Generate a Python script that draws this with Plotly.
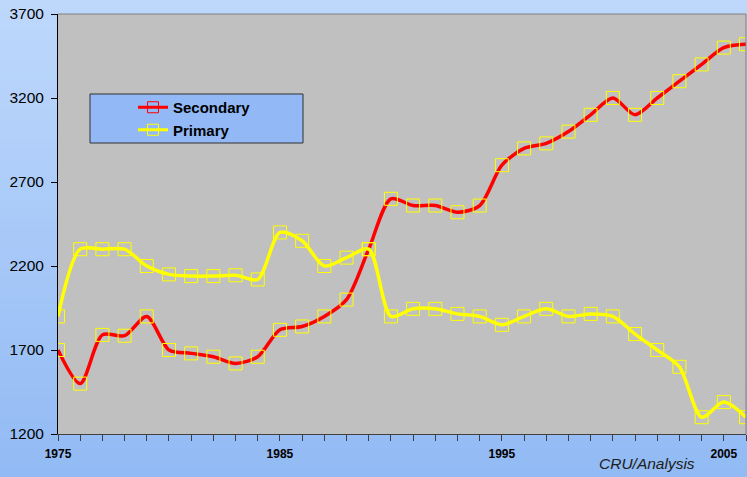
import plotly.graph_objects as go

years = list(range(1975, 2007))
secondary = [1700, 1500, 1790, 1785, 1900, 1700, 1680, 1660, 1620, 1660,
             1820, 1840, 1900, 2000, 2300, 2600, 2560, 2560, 2520, 2560,
             2800, 2900, 2930, 3000, 3100, 3200, 3100, 3200, 3300, 3400,
             3500, 3520]
primary = [1900, 2300, 2300, 2300, 2200, 2150, 2140, 2140, 2145, 2120,
           2400, 2350, 2200, 2250, 2300, 1900, 1945, 1945, 1915, 1900,
           1850, 1900, 1945, 1900, 1915, 1900, 1795, 1700, 1600, 1300,
           1390, 1300]
y_ticks = [1200, 1700, 2200, 2700, 3200, 3700]
x_tick_labels = [1975, 1985, 1995, 2005]

W, H = 747, 477
L, R, T, B = 58, 1, 14, 43
pw, ph = W - L - R, H - T - B

def px(x):
    return (x - L) / pw

def py(y):
    return (H - B - y) / ph

FONT = "Liberation Sans, Arial, sans-serif"

fig = go.Figure()

fig.add_trace(go.Scatter(x=years, y=secondary, mode="lines+markers", showlegend=False,
                         line=dict(color="#ff0000", width=3.5, shape="spline", smoothing=0.8),
                         marker=dict(symbol="square-open", size=13, color="#ffff00",
                                     line=dict(color="#ffff00", width=1))))
fig.add_trace(go.Scatter(x=years, y=primary, mode="lines+markers", showlegend=False,
                         line=dict(color="#ffff00", width=3.5, shape="spline", smoothing=0.8),
                         marker=dict(symbol="square-open", size=13, color="#ffff00",
                                     line=dict(color="#ffff00", width=1))))
# legend entries
fig.add_trace(go.Scatter(x=[None], y=[None], mode="lines+markers", name="Secondary",
                         line=dict(color="#ff0000", width=3),
                         marker=dict(symbol="square-open", size=11, color="#ff0000",
                                     line=dict(color="#ff0000", width=1))))
fig.add_trace(go.Scatter(x=[None], y=[None], mode="lines+markers", name="Primary",
                         line=dict(color="#ffff00", width=3),
                         marker=dict(symbol="square-open", size=11, color="#ffff00",
                                     line=dict(color="#ffff00", width=1))))

shapes = []
# gradient background
top_c = (0xbe, 0xd8, 0xfc)
bot_c = (0x92, 0xba, 0xf4)
n = 48
for i in range(n):
    t = i / (n - 1)
    c = tuple(int(round(top_c[k] + (bot_c[k] - top_c[k]) * t)) for k in range(3))
    y0 = H * i / n
    y1 = H * (i + 1) / n + 1
    shapes.append(dict(type="rect", xref="paper", yref="paper", layer="below",
                       x0=px(0), x1=px(W), y0=py(y1), y1=py(y0),
                       fillcolor="rgb(%d,%d,%d)" % c, line=dict(width=0)))
# plot area fill
shapes.append(dict(type="rect", xref="paper", yref="paper", layer="below",
                   x0=0, x1=1, y0=0, y1=1, fillcolor="#c0c0c0", line=dict(width=0)))
# plot border top/right
shapes.append(dict(type="line", xref="paper", yref="paper", x0=0, x1=1, y0=1, y1=1,
                   line=dict(color="#808080", width=1)))
shapes.append(dict(type="line", xref="paper", yref="paper", x0=1, x1=1, y0=0, y1=1,
                   line=dict(color="#808080", width=1)))
# legend box
shapes.append(dict(type="rect", xref="paper", yref="paper", layer="above",
                   x0=px(90), x1=px(303), y0=py(143), y1=py(94),
                   fillcolor="#92b9f6", line=dict(color="#303030", width=1)))
fig.update_layout(shapes=shapes)

fig.update_layout(
    width=W, height=H,
    margin=dict(l=L, r=R, t=T, b=B),
    paper_bgcolor="rgb(146,186,244)",
    plot_bgcolor="#c0c0c0",
    font=dict(family=FONT, color="#000000"),
    showlegend=True,
    legend=dict(x=px(133), y=py(91), xanchor="left", yanchor="top",
                bgcolor="rgba(0,0,0,0)", borderwidth=0,
                font=dict(size=15, family=FONT, weight="bold"),
                tracegroupgap=0, itemwidth=30),
    xaxis=dict(range=[1975, 2006], showgrid=False, zeroline=False,
               tickmode="array", tickvals=x_tick_labels,
               ticktext=[str(v) for v in x_tick_labels],
               tickfont=dict(size=12, weight="bold"),
               ticks="outside", ticklen=6, tickcolor="#404040",
               ticklabelstandoff=3,
               minor=dict(dtick=1, tick0=1975, ticks="outside", ticklen=6, tickcolor="#404040"),
               showline=True, linecolor="#404040", linewidth=1),
    yaxis=dict(range=[1200, 3700], showgrid=False, zeroline=False,
               tickmode="array", tickvals=y_ticks,
               ticktext=[str(v) for v in y_ticks],
               tickfont=dict(size=15.5),
               ticks="outside", ticklen=6, tickcolor="#000000",
               ticklabelstandoff=4,
               showline=True, linecolor="#000000", linewidth=1),
    annotations=[dict(text="<i>CRU/Analysis</i>", xref="paper", yref="paper",
                      x=px(697), y=py(463), xanchor="right", yanchor="middle",
                      showarrow=False, font=dict(size=15.5, color="#202020"))],
)

fig.write_html("out.html", config={"displayModeBar": False},
               post_script="document.body.style.margin='0';")
